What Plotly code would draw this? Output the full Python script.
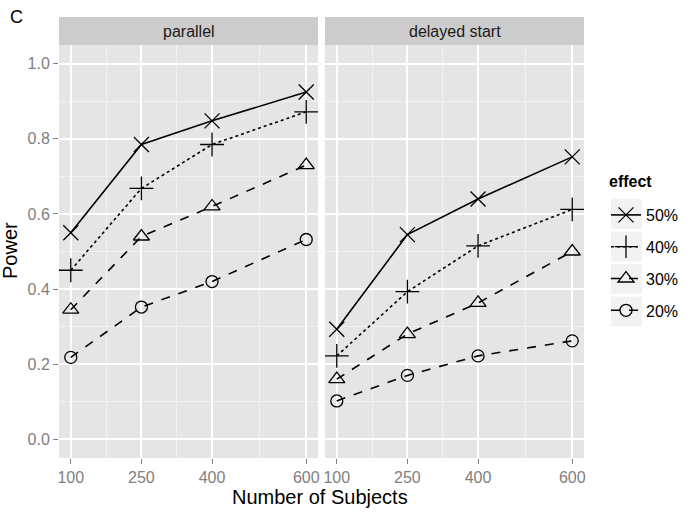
import plotly.graph_objects as go

subjects = [100, 250, 400, 600]
effects = ["50%", "40%", "30%", "20%"]
panels = ["parallel", "delayed start"]

parallel_50 = [0.55, 0.785, 0.848, 0.925]
parallel_40 = [0.45, 0.668, 0.785, 0.872]
parallel_30 = [0.345, 0.54, 0.62, 0.73]
parallel_20 = [0.218, 0.352, 0.42, 0.532]

delayed_50 = [0.293, 0.545, 0.64, 0.752]
delayed_40 = [0.222, 0.393, 0.515, 0.612]
delayed_30 = [0.16, 0.28, 0.363, 0.50]
delayed_20 = [0.102, 0.17, 0.222, 0.262]

x_ticks = [100, 250, 400, 600]
x_minor = [175, 325, 500]
y_ticks = [0.0, 0.2, 0.4, 0.6, 0.8, 1.0]
y_minor = [0.1, 0.3, 0.5, 0.7, 0.9]

data = {
    "parallel": [parallel_50, parallel_40, parallel_30, parallel_20],
    "delayed start": [delayed_50, delayed_40, delayed_30, delayed_20],
}
symbols = ["x-thin-open", "cross-thin-open", "triangle-up-open", "circle-open"]
dashes = ["solid", "dot", "dash", "dash"]
msizes = [15, 17, 14, 12]

W, H = 695, 514
L, R, T, B = 59, 584, 45, 458
def px_x(v): return (v - L) / (R - L)
def px_y(v): return (B - v) / (B - T)

fig = go.Figure()
axes = [("x", "y"), ("x2", "y2")]
for pi, panel in enumerate(panels):
    xa, ya = axes[pi]
    for ei, eff in enumerate(effects):
        fig.add_trace(go.Scatter(
            x=subjects, y=data[panel][ei], mode="lines+markers",
            xaxis=xa, yaxis=ya, name=eff, legendgroup=eff,
            showlegend=(pi == 0),
            line=dict(color="black", width=1.6, dash=dashes[ei]),
            marker=dict(symbol=symbols[ei], size=msizes[ei], color="black",
                        line=dict(color="black", width=1.3)),
        ))

x1dom = [0, px_x(318)]
x2dom = [px_x(325), 1]

tfont = dict(family="Liberation Sans, Arial", size=16, color="#7f7f7f")
common_x = dict(range=[75, 625], tickvals=x_ticks, ticktext=[str(t) for t in x_ticks],
                showgrid=True, gridcolor="white", gridwidth=1.5,
                minor=dict(tickvals=x_minor, showgrid=True, gridcolor="#f2f2f2", gridwidth=0.8),
                ticks="outside", ticklen=5, tickcolor="#7f7f7f", tickwidth=1.2,
                tickfont=tfont, automargin=False,
                zeroline=False, showline=False, fixedrange=True)
common_y = dict(range=[-0.05, 1.05], tickvals=y_ticks, ticktext=[f"{t:.1f}" for t in y_ticks],
                showgrid=True, gridcolor="white", gridwidth=1.5,
                minor=dict(tickvals=y_minor, showgrid=True, gridcolor="#f2f2f2", gridwidth=0.8),
                zeroline=False, showline=False, fixedrange=True, automargin=False)

fig.update_layout(
    width=W, height=H,
    margin=dict(l=L, r=W - R, t=T, b=H - B, autoexpand=False),
    paper_bgcolor="white", plot_bgcolor="#e5e5e5",
    font=dict(family="Liberation Sans, Arial", color="black"),
    xaxis=dict(domain=x1dom, anchor="y", **common_x),
    xaxis2=dict(domain=x2dom, anchor="y2", **common_x),
    yaxis=dict(domain=[0, 1], anchor="x", ticks="outside", ticklen=5, tickcolor="#7f7f7f", tickwidth=1.2,
               tickfont=tfont, **common_y),
    yaxis2=dict(domain=[0, 1], anchor="x2", showticklabels=False, ticks="", **common_y),
    legend=dict(x=px_x(606), y=px_y(198), xanchor="left", yanchor="top",
                font=dict(size=16), tracegroupgap=8, bgcolor="rgba(0,0,0,0)",
                itemwidth=30),
    showlegend=True,
)

# facet strips
for dom, label in [(x1dom, panels[0]), (x2dom, panels[1])]:
    fig.add_shape(type="rect", xref="paper", yref="paper", x0=dom[0], x1=dom[1],
                  y0=px_y(45), y1=px_y(17), fillcolor="#cccccc", line=dict(width=0), layer="below")
    fig.add_annotation(xref="paper", yref="paper", x=(dom[0] + dom[1]) / 2, y=px_y(31),
                       text=label, showarrow=False, font=dict(size=16, color="#1a1a1a"),
                       xanchor="center", yanchor="middle")

# legend key backgrounds
for k in range(4):
    yc = 214 + k * 32.5
    fig.add_shape(type="rect", xref="paper", yref="paper", x0=px_x(611), x1=px_x(642),
                  y0=px_y(yc + 15), y1=px_y(yc - 15), fillcolor="#f2f2f2", line=dict(width=0), layer="below")

fig.add_annotation(xref="paper", yref="paper", x=px_x(607), y=px_y(181), text="<b>effect</b>",
                   showarrow=False, font=dict(size=16), xanchor="left", yanchor="middle")
fig.add_annotation(xref="paper", yref="paper", x=px_x(8), y=px_y(17), text="C", showarrow=False,
                   font=dict(size=18), xanchor="left", yanchor="middle")
fig.add_annotation(xref="paper", yref="paper", x=px_x(320), y=px_y(497), text="Number of Subjects",
                   showarrow=False, font=dict(size=20), xanchor="center", yanchor="middle")
fig.add_annotation(xref="paper", yref="paper", x=px_x(10), y=px_y(251), text="Power", textangle=-90,
                   showarrow=False, font=dict(size=20), xanchor="center", yanchor="middle")

fig.write_html("out.html", config={"displayModeBar": False},
               post_script="document.body.style.margin='0';document.body.style.overflow='hidden';")
